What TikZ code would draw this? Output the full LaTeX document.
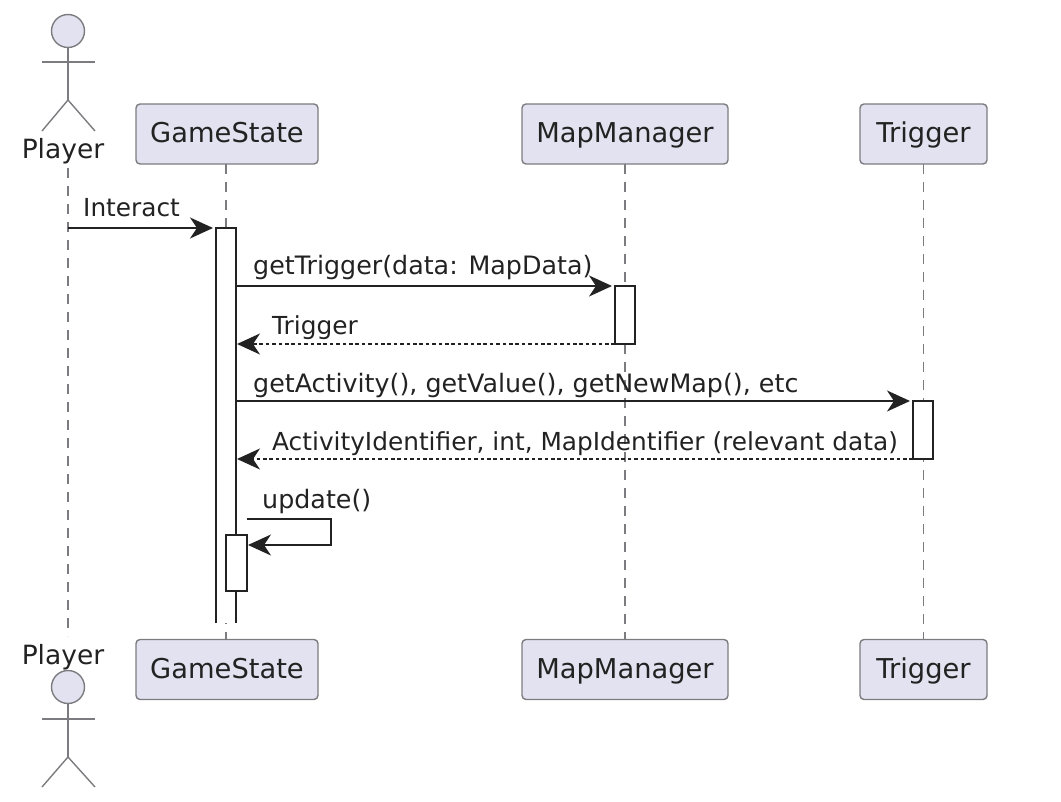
\documentclass[tikz,border=0pt]{standalone}
\usepackage{fontspec}
\setmainfont{DejaVu Sans}
\usetikzlibrary{arrows.meta}
\definecolor{boxfill}{HTML}{E2E2F0}
\definecolor{boxline}{HTML}{7C7C80}
\definecolor{ink}{HTML}{222222}
\tikzset{
  x=1pt,y=-1pt,
  part/.style={draw=boxline,fill=boxfill,rounded corners=4pt,line width=1.4pt,minimum height=60pt,inner sep=0pt,outer sep=0pt,text height=22pt,text depth=4pt,font=\fontsize{27.3}{30}\selectfont,text=ink},
  actorline/.style={draw=boxline,line width=1.4pt},
  actorhead/.style={circle,draw=boxline,fill=boxfill,line width=1.4pt,minimum size=33pt,inner sep=0pt,outer sep=0pt},
  actorname/.style={inner sep=0pt,anchor=base,font=\fontsize{26.5}{30}\selectfont,text=ink},
  life/.style={draw=boxline,line width=1.3pt,dash pattern=on 10pt off 8pt},
  activ/.style={draw=ink,fill=white,line width=1.6pt,minimum width=20pt,inner sep=0pt,outer sep=0pt},
  ahead/.style={-{Stealth[length=23pt,width=21pt,inset=7pt]}},
  msg/.style={draw=ink,line width=1.8pt,shorten >=3pt,ahead},
  selfmsg/.style={draw=ink,line width=1.8pt,ahead},
  ret/.style={draw=ink,line width=1.8pt,dash pattern=on 3.6pt off 2.8pt,ahead},
  label/.style={inner sep=0pt,anchor=base west,font=\fontsize{24.8}{28}\selectfont,text=ink},
  labelw/.style={label,font=\fontsize{25.35}{28}\selectfont},
}
\begin{document}
\begin{tikzpicture}
\useasboundingbox (0,0) rectangle (1061,802);
\node[part,minimum width=182pt] (gsT) at (227,134) {GameState};
\node[part,minimum width=206pt] (mmT) at (625,134) {MapManager};
\node[part,minimum width=127pt] (trT) at (923.5,134) {Trigger};
\node[part,minimum width=182pt] (gsB) at (227,669.5) {GameState};
\node[part,minimum width=206pt] (mmB) at (625,669.5) {MapManager};
\node[part,minimum width=127pt] (trB) at (923.5,669.5) {Trigger};
\coordinate (plLT) at (68,168);
\coordinate (plLB) at (68,636);
\draw[life] (plLT) -- (plLB);
\draw[life] (gsT.south -| 226,0) -- (gsB.north -| 226,0);
\draw[life] (mmT.south) -- (mmB.north);
\draw[life] (trT.south) -- (trB.north);
% top actor
\node[actorhead] (hT) at (68,31) {};
\coordinate (aTl) at (42,62); \coordinate (aTr) at (95,62);
\coordinate (hipT) at (68,100); \coordinate (lTl) at (42,131); \coordinate (lTr) at (95,131);
\draw[actorline] (hT.south) -- (hipT);
\draw[actorline] (aTl) -- (aTr);
\draw[actorline] (lTl) -- (hipT) -- (lTr);
\node[actorname] (plT) at (63,159) {Player};
% bottom actor
\node[actorname] (plB) at (63,664) {Player};
\node[actorhead] (hB) at (68,687) {};
\coordinate (aBl) at (42,719); \coordinate (aBr) at (95,719);
\coordinate (hipB) at (68,757); \coordinate (lBl) at (42,787); \coordinate (lBr) at (95,787);
\draw[actorline] (hB.south) -- (hipB);
\draw[actorline] (aBl) -- (aBr);
\draw[actorline] (lBl) -- (hipB) -- (lBr);
% activations
\fill[white] (216,228) rectangle (236,623);
\coordinate (g1) at (216,228); \coordinate (g2) at (236,228);
\coordinate (g3) at (216,623); \coordinate (g4) at (236,623);
\draw[draw=ink,line width=1.6pt] (g3) -- (g1) -- (g2) -- (g4);
\node[activ,minimum height=56pt,minimum width=21pt] (ga) at (236.5,563) {};
\node[activ,minimum height=58pt] (ma) at (625,315) {};
\node[activ,minimum height=58pt] (ta) at (923,430) {};
% messages
\coordinate (pl1) at (68,228);
\draw[msg] (pl1) -- (g1);
\node[label] (t1) at (83,217) {Interact};
\coordinate (s2) at (236,286);
\draw[msg] (s2) -- (ma.north west);
\node[labelw] (t2) at (253,275) {getTrigger(data: MapData)};
\coordinate (e3) at (237,344);
\draw[ret] (ma.south west) -- (e3);
\node[label] (t3) at (272,335) {Trigger};
\coordinate (s4) at (236,401);
\draw[msg] (s4) -- (ta.north west);
\node[labelw] (t4) at (253,392) {getActivity(), getValue(), getNewMap(), etc};
\coordinate (e5) at (237,459);
\draw[ret] (ta.south west) -- (e5);
\node[label] (t5) at (272,450) {ActivityIdentifier, int, MapIdentifier (relevant data)};
\coordinate (s6) at (247,519); \coordinate (c6a) at (331,519); \coordinate (c6b) at (331,545); \coordinate (e6) at (248,545);
\draw[selfmsg] (s6) -- (c6a) -- (c6b) -- (e6);
\node[labelw] (t6) at (262,508) {update()};
\end{tikzpicture}
\end{document}
